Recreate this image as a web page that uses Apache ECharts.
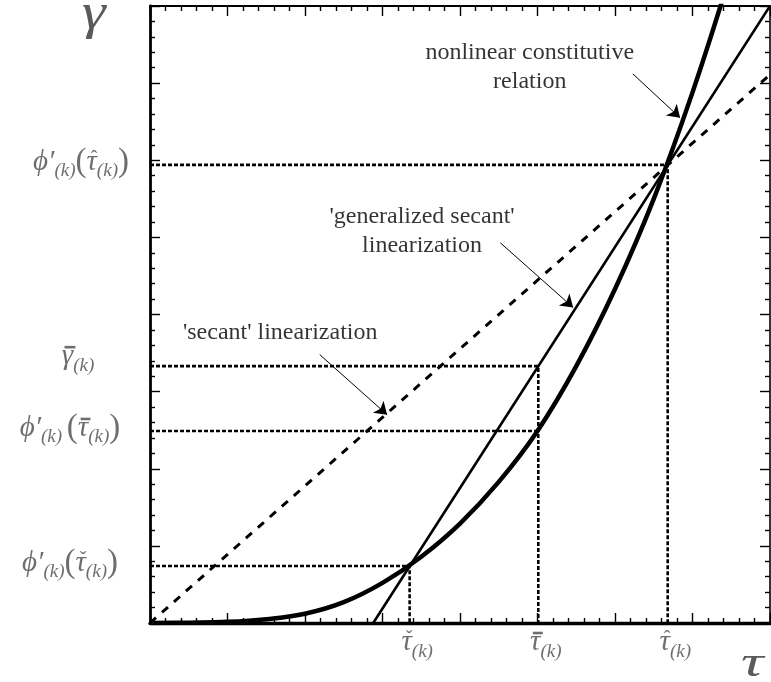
<!DOCTYPE html>
<html>
<head>
<meta charset="utf-8">
<script src="https://cdn.jsdelivr.net/npm/echarts@6/dist/echarts.min.js"></script>
<style>
  html, body { margin: 0; padding: 0; background: #ffffff; }
  #chart { width: 771px; height: 682px; }
</style>
</head>
<body>
<div id="chart"></div>
<script>
// Stress levels on the τ axis
const tauCheck = 3.35;   // τ̌(k)
const tauBar = 5.01;     // τ̄(k)
const tauHat = 6.68;     // τ̂(k)

// Strain levels on the γ axis
const phiCheck = 0.74;   // φ'(k)(τ̌(k))
const phiBar = 2.49;     // φ'(k)(τ̄(k))
const gammaBar = 3.33;   // γ̄(k)
const phiHat = 5.94;     // φ'(k)(τ̂(k))

// Nonlinear constitutive relation γ = φ(τ)
const curveTau =   [0, 0.5,   1,     1.5,  2,    2.5,  3,    3.5,  4,    4.5,  5,    5.5,  6,    6.5, 7,    7.5];
const curveGamma = [0, 0.004, 0.015, 0.05, 0.12, 0.27, 0.52, 0.86, 1.29, 1.83, 2.49, 3.33, 4.33, 5.5, 6.88, 8.45];

// 'generalized secant' linearization
const genSecantTau = [2.88, 8.0];
const genSecantGamma = [0, 8.0];

// 'secant' linearization (through the origin)
const secantTau = [0, 8.0];
const secantGamma = [0, 7.11];

// Annotation arrows: [tail τ, tail γ, head τ, head γ]
const arrowNonlinear = [6.23, 7.12, 6.84, 6.55];
const arrowGenSecant = [4.52, 4.93, 5.46, 4.09];
const arrowSecant = [2.19, 3.48, 3.06, 2.70];

// Annotation text anchors [τ, γ]
const noteNonlinear = [4.90, 7.21];
const noteGenSecant = [3.51, 5.08];
const noteSecant = [1.68, 3.76];

const zip = (xs, ys) => xs.map((x, i) => [x, ys[i]]);

const LABEL = '#4a4a4a';
const SERIF = '"Liberation Serif", "Times New Roman", serif';

// ---- math labels: rich text with an accent line above the accented symbol ----
const measureCtx = document.createElement('canvas').getContext('2d');
function textWidth(st, text) {
  measureCtx.font = (st.fontStyle || 'normal') + ' normal ' + st.fontSize + 'px ' + st.fontFamily;
  return measureCtx.measureText(text).width;
}
const L1 = 2;   // accent line height
const L2 = 16;  // main line height
function mathLabel(tokens, accentIndex, accent) {
  const rich = {
    m: { fontFamily: SERIF, fontStyle: 'italic', fontSize: 29, color: LABEL, lineHeight: L2 },
    s: { fontFamily: SERIF, fontStyle: 'italic', fontSize: 19, color: LABEL, lineHeight: L2, padding: [19, 0, 0, 0] },
    p: { fontFamily: SERIF, fontStyle: 'normal', fontSize: 33, color: LABEL, lineHeight: L2 }
  };
  let x = 0, baseX = 0, baseW = 0;
  tokens.forEach(([st, t], i) => {
    const w = textWidth(rich[st], t);
    if (i === accentIndex) { baseX = x; baseW = w; }
    x += w;
  });
  let accW, accText;
  if (accent === 'bar') {
    accW = baseW * 0.95;
    accText = ' ';
    rich.a = { width: accW, height: 2.6, backgroundColor: LABEL, lineHeight: L1, fontSize: 2 };
  } else {
    accText = accent === 'hat' ? '\u02C6' : '\u02C7';
    rich.a = { fontFamily: SERIF, fontSize: 20, color: LABEL, lineHeight: L1, padding: [14, 0, 0, 0] };
    accW = textWidth(rich.a, accText);
  }
  const skew = 2.5;
  rich.g = { width: Math.max(0, baseX + baseW / 2 + skew - accW / 2), lineHeight: L1, fontSize: 2 };
  const line2 = tokens.map(([st, t]) => '{' + st + '|' + t + '}').join('');
  return { formatter: '{g| }{a|' + accText + '}\n' + line2, rich: rich, width: x, baseCenter: baseX + baseW / 2 };
}

// τ-axis labels (placed below the axis at the stress value)
function tauItem(value, accent) {
  const lab = mathLabel([['m', 'τ'], ['s', '(k)']], 0, accent);
  return {
    value: [value, 0],
    label: { formatter: lab.formatter, rich: lab.rich, offset: [-3 - lab.baseCenter, 18] }
  };
}
// γ-axis labels (placed left of the axis at the strain value)
function gammaItem(value, tokens, accentIndex, accent, centerX, dy) {
  const lab = mathLabel(tokens, accentIndex, accent);
  return {
    value: [0, value],
    label: { formatter: lab.formatter, rich: lab.rich, offset: [centerX - 150 - lab.width / 2, dy - 1] }
  };
}

const axisCommon = {
  type: 'value', min: 0, max: 8, interval: 1,
  axisTick: { show: true, inside: true, length: 10, lineStyle: { color: '#000', width: 1.4 } },
  minorTick: { show: true, splitNumber: 5, length: 5, lineStyle: { color: '#000', width: 1.4 } },
  axisLabel: { show: false },
  splitLine: { show: false },
  minorSplitLine: { show: false }
};
const withLine = (extra, width) => Object.assign({}, axisCommon, extra, {
  axisLine: { show: true, onZero: false, lineStyle: { color: '#000', width: width } }
});

const guide = (pts) => ({
  type: 'line', data: pts, showSymbol: false, symbol: 'none', silent: true, z: 3,
  lineStyle: { color: '#000', width: 2.6, type: [4, 2] }
});

const arrow = (a) => ({ coords: [[a[0], a[1]], [a[2], a[3]]] });
const note = (pos, text) => ({ value: pos, label: { formatter: text } });

const hidden = {
  type: 'scatter', symbolSize: 1, itemStyle: { color: 'rgba(0,0,0,0)' }, silent: true, clip: false, z: 7
};

const chart = echarts.init(document.getElementById('chart'), null, { renderer: 'canvas' });
chart.setOption({
  animation: false,
  backgroundColor: '#ffffff',
  grid: { left: 150, top: 6, right: 1, bottom: 59, containLabel: false },
  xAxis: [
    withLine({ position: 'bottom' }, 3.4),
    withLine({ position: 'top' }, 2)
  ],
  yAxis: [
    withLine({ position: 'left' }, 2.8),
    withLine({ position: 'right' }, 1.6)
  ],
  graphic: [
    {
      type: 'text', x: 82, y: -10, scaleX: 1.2,
      style: { text: 'γ', fontFamily: SERIF, fontStyle: 'italic', fontSize: 50, fill: '#5a5a5a' }
    },
    {
      type: 'text', x: 741, y: 642, scaleX: 1.4,
      style: { text: 'τ', fontFamily: SERIF, fontStyle: 'italic', fontSize: 45, fill: '#5a5a5a' }
    }
  ],
  series: [
    // dotted guide lines
    guide([[0, phiHat], [tauHat, phiHat], [tauHat, 0]]),
    guide([[0, gammaBar], [tauBar, gammaBar], [tauBar, 0]]),
    guide([[0, phiBar], [tauBar, phiBar]]),
    guide([[0, phiCheck], [tauCheck, phiCheck], [tauCheck, 0]]),
    {
      name: 'secant', type: 'line', data: zip(secantTau, secantGamma),
      showSymbol: false, symbol: 'none', z: 4,
      lineStyle: { color: '#000', width: 3, type: [8, 8] }
    },
    {
      name: 'generalized secant', type: 'line', data: zip(genSecantTau, genSecantGamma),
      showSymbol: false, symbol: 'none', z: 4,
      lineStyle: { color: '#000', width: 2.6 }
    },
    {
      name: 'constitutive relation', type: 'line', data: zip(curveTau, curveGamma),
      showSymbol: false, symbol: 'none', smooth: 0.4, z: 5,
      lineStyle: { color: '#000', width: 4.5 }
    },
    {
      type: 'lines', coordinateSystem: 'cartesian2d', z: 6, silent: true,
      symbol: ['none', 'arrow'], symbolSize: 12,
      lineStyle: { color: '#000', width: 1, opacity: 1 },
      data: [arrow(arrowNonlinear), arrow(arrowGenSecant), arrow(arrowSecant)]
    },
    Object.assign({}, hidden, {
      // annotation texts
      label: {
        show: true, position: 'inside', align: 'center', verticalAlign: 'middle',
        fontFamily: SERIF, fontSize: 24, lineHeight: 29, color: '#000'
      },
      data: [
        note(noteNonlinear, 'nonlinear constitutive\nrelation'),
        note(noteGenSecant, "'generalized secant'\nlinearization"),
        note(noteSecant, "'secant' linearization")
      ]
    }),
    Object.assign({}, hidden, {
      // τ-axis labels
      label: { show: true, position: 'inside', align: 'left', verticalAlign: 'middle' },
      data: [
        tauItem(tauCheck, 'check'),
        tauItem(tauBar, 'bar'),
        tauItem(tauHat, 'hat')
      ]
    }),
    Object.assign({}, hidden, {
      // γ-axis labels
      label: { show: true, position: 'inside', align: 'left', verticalAlign: 'middle' },
      data: [
        gammaItem(phiHat, [['m', 'ϕ′'], ['s', '(k)'], ['p', '('], ['m', 'τ'], ['s', '(k)'], ['p', ')']], 3, 'hat', 81, -3),
        gammaItem(gammaBar, [['m', 'γ'], ['s', '(k)']], 0, 'bar', 78, -10),
        gammaItem(phiBar, [['m', 'ϕ′'], ['s', '(k) '], ['p', '('], ['m', 'τ'], ['s', '(k)'], ['p', ')']], 3, 'bar', 70, -3),
        gammaItem(phiCheck, [['m', 'ϕ′'], ['s', '(k)'], ['p', '('], ['m', 'τ'], ['s', '(k)'], ['p', ')']], 3, 'check', 70, -3)
      ]
    })
  ]
});
</script>
</body>
</html>
